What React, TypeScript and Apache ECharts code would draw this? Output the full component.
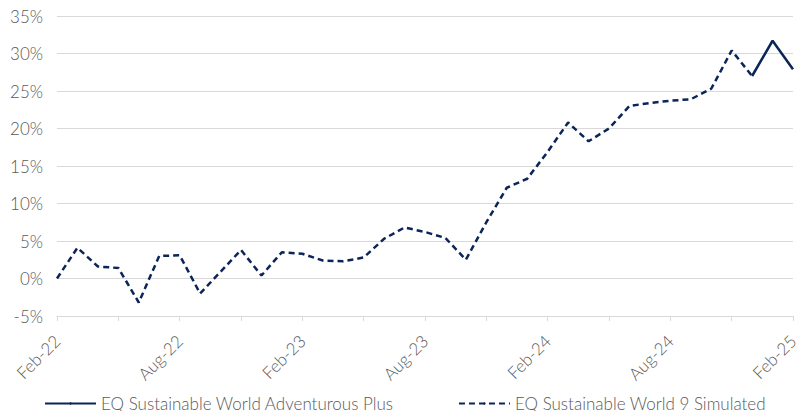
import React, { useEffect, useRef } from "react";
import * as echarts from "echarts";

const months: string[] = [
  "Feb-22", "Mar-22", "Apr-22", "May-22", "Jun-22", "Jul-22", "Aug-22", "Sep-22", "Oct-22", "Nov-22", "Dec-22", "Jan-23",
  "Feb-23", "Mar-23", "Apr-23", "May-23", "Jun-23", "Jul-23", "Aug-23", "Sep-23", "Oct-23", "Nov-23", "Dec-23", "Jan-24",
  "Feb-24", "Mar-24", "Apr-24", "May-24", "Jun-24", "Jul-24", "Aug-24", "Sep-24", "Oct-24", "Nov-24", "Dec-24", "Jan-25",
  "Feb-25",
];

const simulatedName = "EQ Sustainable World 9 Simulated";
const simulated: (number | null)[] = [
  0.0, 4.1, 1.6, 1.4, -3.2, 3.0, 3.1, -2.0, 0.9, 3.8, 0.4, 3.5,
  3.3, 2.4, 2.3, 2.8, 5.3, 6.8, 6.2, 5.4, 2.5, 7.5, 12.1, 13.3,
  16.9, 20.8, 18.3, 20.0, 23.0, 23.4, 23.7, 23.9, 25.3, 30.4, 27.0, null,
  null,
];

const actualName = "EQ Sustainable World Adventurous Plus";
const actual: (number | null)[] = [
  null, null, null, null, null, null, null, null, null, null, null, null,
  null, null, null, null, null, null, null, null, null, null, null, null,
  null, null, null, null, null, null, null, null, null, null, 27.0, 31.7,
  27.9,
];

const yMin = -5;
const yMax = 35;
const yStep = 5;

export default function App() {
  const ref = useRef<HTMLDivElement>(null);
  useEffect(() => {
    if (!ref.current) return;
    const chart = echarts.init(ref.current, undefined, { renderer: "svg" });
    const navy = "#0b2559";
    const grey = "#595959";
    const font = "Lato";
    chart.setOption({
      animation: false,
      textStyle: { fontFamily: font },
      grid: { left: 57, right: 12, top: 16, bottom: 103, containLabel: false },
      legend: {
        left: 39,
        top: 390,
        itemWidth: 51,
        itemHeight: 3,
        itemGap: 64,
        textStyle: { color: grey, fontSize: 17, fontFamily: font, fontWeight: 300 },
        data: [{ name: actualName }, { name: simulatedName }],
      },
      xAxis: [
        {
          type: "category",
          data: months,
          boundaryGap: false,
          axisLine: { show: false },
          axisTick: { show: false },
          axisLabel: {
            interval: 5,
            rotate: 45,
            margin: 22,
            color: grey,
            fontSize: 17,
            fontFamily: font,
            fontWeight: 300,
          },
          splitLine: { show: false },
        },
        {
          type: "category",
          data: months,
          boundaryGap: false,
          position: "bottom",
          axisLine: { show: true, onZero: true, lineStyle: { color: "#d9d9d9", width: 1 } },
          axisTick: { show: true, interval: 2, length: 5, lineStyle: { color: "#d9d9d9" } },
          axisLabel: { show: false },
          splitLine: { show: false },
        },
      ],
      yAxis: {
        type: "value",
        min: yMin,
        max: yMax,
        interval: yStep,
        axisLine: { show: false },
        axisTick: { show: false },
        axisLabel: {
          formatter: "{value}%",
          color: grey,
          fontSize: 17,
          margin: 14,
          fontFamily: font,
          fontWeight: 300,
        },
        splitLine: { lineStyle: { color: "#d9d9d9", width: 1 } },
      },
      series: [
        {
          name: actualName,
          type: "line",
          data: actual,
          symbol: "none",
          lineStyle: { color: navy, width: 2.5, type: "solid" },
          itemStyle: { color: navy },
        },
        {
          name: simulatedName,
          type: "line",
          data: simulated,
          symbol: "none",
          lineStyle: { color: navy, width: 2.5, type: [6, 4] },
          itemStyle: { color: navy },
        },
      ],
    });
    return () => chart.dispose();
  }, []);
  return <div ref={ref} style={{ width: 805, height: 419, margin: -8 }} />;
}
